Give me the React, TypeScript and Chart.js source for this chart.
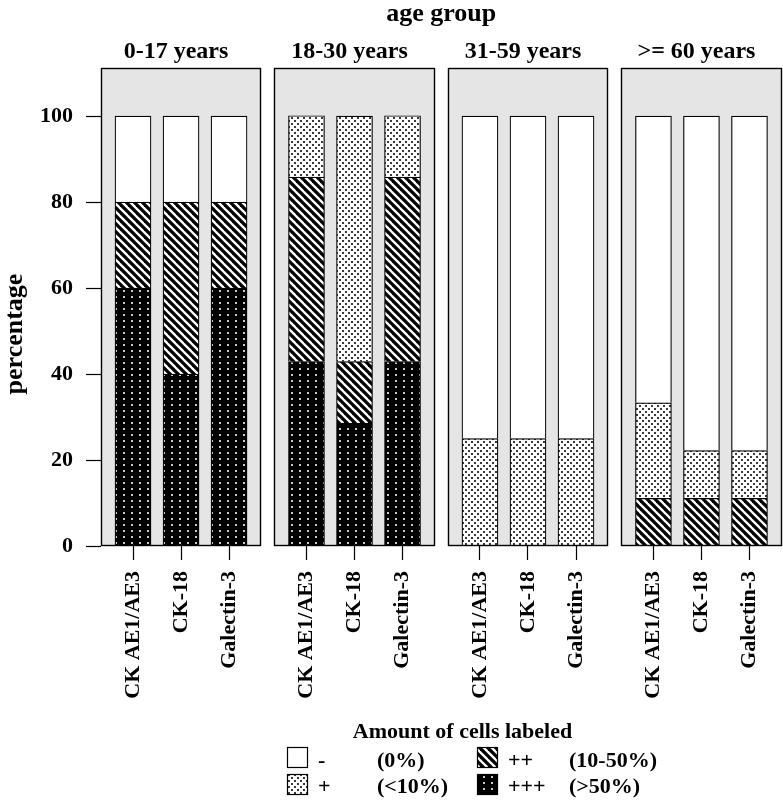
import React, { useEffect, useRef } from 'react';
import { Chart, registerables } from 'chart.js';

Chart.register(...registerables);

// ---- data ----
const ageGroups = ['0-17 years', '18-30 years', '31-59 years', '>= 60 years'];
const markers = ['CK AE1/AE3', 'CK-18', 'Galectin-3'];
const levelSymbols = ['-', '+', '++', '+++'];
const levelRanges = ['(0%)', '(<10%)', '(10-50%)', '(>50%)'];
// one value per bar: age group x marker, in order of ageGroups then markers
const plus3Values = [60, 40, 60, 42.9, 28.6, 42.9, 0, 0, 0, 0, 0, 0];
const plus2Values = [20, 40, 20, 42.9, 14.3, 42.9, 0, 0, 0, 11.1, 11.1, 11.1];
const plus1Values = [0, 0, 0, 14.3, 57.1, 14.3, 25, 25, 25, 22.2, 11.1, 11.1];
const minusValues = [20, 20, 20, 0, 0, 0, 75, 75, 75, 66.7, 77.8, 77.8];
const yTickValues = [0, 20, 40, 60, 80, 100];
const Y_MAX = 111.2;

// ---- layout constants ----
const W = 783;
const H = 802;
const PANEL_STEP = 3.6125; // x-units between panels
const X_MIN = 1 / 3;
const X_MAX = 3 * PANEL_STEP + 3 + 2 / 3;
const FONT = "'Liberation Serif', 'Times New Roman', Times, serif";
const PANEL_BG = '#e5e5e5';

const xPos = (i: number) => Math.floor(i / 3) * PANEL_STEP + (i % 3) + 1;

function makePattern(kind: string): CanvasPattern | string {
  const c = document.createElement('canvas');
  const ctx = c.getContext('2d')!;
  if (kind === 'plus1') {
    c.width = 6; c.height = 6;
    ctx.fillStyle = '#fff';
    ctx.fillRect(0, 0, 6, 6);
    ctx.fillStyle = '#3a3a3a';
    ctx.fillRect(0, 0, 2, 2);
    ctx.fillRect(3, 3, 2, 2);
  } else if (kind === 'plus2') {
    c.width = 8; c.height = 8;
    ctx.fillStyle = '#000';
    ctx.fillRect(0, 0, 8, 8);
    ctx.strokeStyle = '#fff';
    ctx.lineWidth = 2.3;
    for (let k = -1; k <= 1; k++) {
      ctx.beginPath();
      ctx.moveTo(k * 8 - 2, -2);
      ctx.lineTo(k * 8 + 10, 10);
      ctx.stroke();
    }
  } else if (kind === 'plus3') {
    c.width = 8; c.height = 6;
    ctx.fillStyle = '#000';
    ctx.fillRect(0, 0, 8, 6);
    ctx.fillStyle = '#c8c8c8';
    ctx.fillRect(3, 2, 2, 2);
  } else {
    return '#ffffff';
  }
  return ctx.createPattern(c, 'repeat')!;
}

export default function App() {
  const ref = useRef<HTMLCanvasElement>(null);

  useEffect(() => {
    const canvas = ref.current!;
    const fills = {
      minus: makePattern('minus'),
      plus1: makePattern('plus1'),
      plus2: makePattern('plus2'),
      plus3: makePattern('plus3'),
    };
    const legendFills = [fills.minus, fills.plus1, fills.plus2, fills.plus3];

    const toPoints = (vals: number[]) => vals.map((v, i) => ({ x: xPos(i), y: v }));

    const facetPlugin = {
      id: 'facets',
      beforeDatasetsDraw(chart: any) {
        const { ctx, chartArea, scales } = chart;
        const x = scales.x;
        ctx.save();
        ctx.fillStyle = PANEL_BG;
        for (let p = 0; p < ageGroups.length; p++) {
          const l = x.getPixelForValue(p * PANEL_STEP + 1 / 3);
          const r = x.getPixelForValue(p * PANEL_STEP + 3 + 2 / 3);
          ctx.fillRect(l, chartArea.top, r - l, chartArea.bottom - chartArea.top);
        }
        ctx.restore();
      },
      afterDatasetsDraw(chart: any) {
        const { ctx, chartArea, scales } = chart;
        const x = scales.x;
        ctx.save();
        ctx.strokeStyle = '#000';
        ctx.lineWidth = 1.4;
        for (let p = 0; p < ageGroups.length; p++) {
          const l = Math.round(x.getPixelForValue(p * PANEL_STEP + 1 / 3)) + 0.5;
          const r = Math.round(x.getPixelForValue(p * PANEL_STEP + 3 + 2 / 3)) - 0.5;
          const t = Math.round(chartArea.top) + 0.5;
          const b = Math.round(chartArea.bottom) - 0.5;
          ctx.strokeRect(l, t, r - l, b - t);
        }
        ctx.restore();
      },
      afterDraw(chart: any) {
        const { ctx, chartArea, scales } = chart;
        const x = scales.x;
        ctx.save();
        ctx.fillStyle = '#000';
        // overall title
        ctx.font = `bold 26px ${FONT}`;
        ctx.textAlign = 'center';
        ctx.textBaseline = 'alphabetic';
        ctx.fillText('age group', (chartArea.left + chartArea.right) / 2, 21);
        // strips
        ctx.font = `bold 24px ${FONT}`;
        for (let p = 0; p < ageGroups.length; p++) {
          const l = x.getPixelForValue(p * PANEL_STEP + 1 / 3);
          const r = x.getPixelForValue(p * PANEL_STEP + 3 + 2 / 3);
          ctx.fillText(ageGroups[p], (l + r) / 2 - 5, 57.5);
        }
        // y title
        ctx.save();
        ctx.font = `bold 26px ${FONT}`;
        ctx.translate(21.5, 334);
        ctx.rotate(-Math.PI / 2);
        ctx.fillText('percentage', 0, 0);
        ctx.restore();
        // legend
        ctx.font = `bold 22px ${FONT}`;
        ctx.textAlign = 'center';
        ctx.fillText('Amount of cells labeled', 462.5, 738);
        ctx.textAlign = 'left';
        const boxX = [287, 477];
        const symX = [318, 508];
        const rangeX = [377, 569];
        const boxY = [747, 774];
        const baseY = [767, 793];
        for (let k = 0; k < levelSymbols.length; k++) {
          const col = Math.floor(k / 2);
          const row = k % 2;
          ctx.fillStyle = legendFills[k] as any;
          ctx.fillRect(boxX[col], boxY[row], 20, 20);
          ctx.strokeStyle = '#000';
          ctx.lineWidth = 1.2;
          ctx.strokeRect(boxX[col] + 0.5, boxY[row] + 0.5, 20, 20);
          ctx.fillStyle = '#000';
          ctx.fillText(levelSymbols[k], symX[col], baseY[row]);
          ctx.fillText(levelRanges[k], rangeX[col], baseY[row]);
        }
        ctx.restore();
      },
    };

    const barCommon = {
      barThickness: 36,
      borderColor: '#000',
      borderWidth: 1.2,
      borderSkipped: 'bottom' as const,
    };

    const chart = new Chart(canvas, {
      type: 'bar',
      data: {
        datasets: [
          { label: '+++', data: toPoints(plus3Values), backgroundColor: fills.plus3 as any, ...barCommon },
          { label: '++', data: toPoints(plus2Values), backgroundColor: fills.plus2 as any, ...barCommon },
          { label: '+', data: toPoints(plus1Values), backgroundColor: fills.plus1 as any, ...barCommon },
          { label: '-', data: toPoints(minusValues), backgroundColor: fills.minus as any, ...barCommon },
        ],
      },
      options: {
        responsive: false,
        devicePixelRatio: 1,
        animation: false,
        events: [],
        layout: { padding: { top: 68, right: 1.5, bottom: 86, left: 0 } },
        plugins: { legend: { display: false }, tooltip: { enabled: false } },
        scales: {
          x: {
            type: 'linear',
            position: 'bottom',
            stacked: true,
            offset: false,
            min: X_MIN,
            max: X_MAX,
            afterBuildTicks: (scale: any) => {
              scale.ticks = plus3Values.map((_, i) => ({ value: xPos(i) }));
            },
            afterFit: (scale: any) => {
              scale.height = 170;
              scale.paddingLeft = 0;
              scale.paddingRight = 0;
            },
            ticks: {
              autoSkip: false,
              minRotation: 90,
              maxRotation: 90,
              padding: 11,
              color: '#000',
              font: { family: FONT, size: 22, weight: 'bold' },
              callback: (_v: any, idx: number) => markers[idx % 3],
            },
            grid: {
              offset: false,
              drawOnChartArea: false,
              drawTicks: true,
              tickLength: 14,
              tickColor: '#000',
              tickWidth: 1.2,
            },
            border: { display: false },
          },
          y: {
            type: 'linear',
            stacked: true,
            min: 0,
            max: Y_MAX,
            afterBuildTicks: (scale: any) => {
              scale.ticks = yTickValues.map((v) => ({ value: v }));
            },
            afterFit: (scale: any) => {
              scale.width = 101;
            },
            ticks: {
              padding: 13,
              color: '#000',
              font: { family: FONT, size: 22, weight: 'bold' },
              callback: (v: any) => String(v),
            },
            grid: {
              drawOnChartArea: false,
              drawTicks: true,
              tickLength: 15,
              tickColor: '#000',
              tickWidth: 1.2,
            },
            border: { display: false },
          },
        },
      } as any,
      plugins: [facetPlugin as any],
    });

    return () => chart.destroy();
  }, []);

  return (
    <div style={{ position: 'absolute', left: 0, top: 0, width: W, height: H, background: '#fff' }}>
      <canvas ref={ref} width={W} height={H} style={{ display: 'block', width: W, height: H }} />
    </div>
  );
}
